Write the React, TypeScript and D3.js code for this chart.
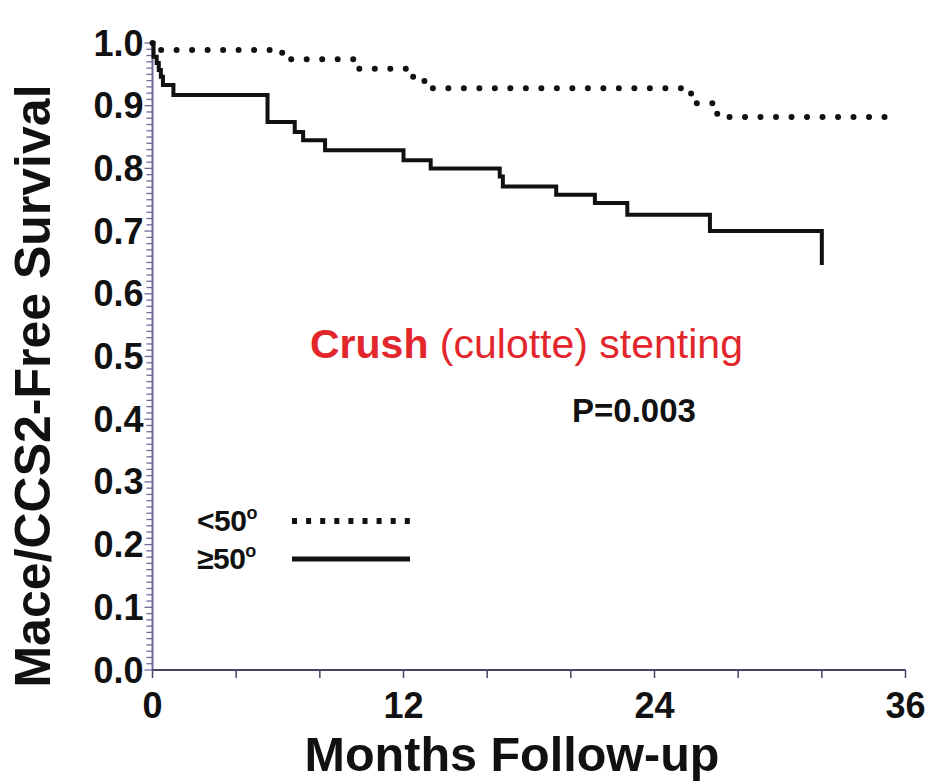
import React from "react";
import * as d3 from "d3";

// Kaplan-Meier steps: [month, survival]
const ge50Months = [0, 0.05, 0.2, 0.3, 0.4, 0.5, 1.0, 5.5, 6.8, 7.2, 8.25, 12.0, 13.3, 16.6, 16.75, 19.3, 21.15, 22.7, 26.65, 32.0];
const ge50Surv = [1.0, 0.978, 0.968, 0.957, 0.946, 0.933, 0.917, 0.874, 0.858, 0.845, 0.829, 0.813, 0.8, 0.787, 0.771, 0.758, 0.745, 0.726, 0.7, 0.646];

const lt50Months = [0, 0.1, 6.2, 9.8, 12.45, 13.0, 25.75, 27.0, 35.3];
const lt50Surv = [1.0, 0.989, 0.974, 0.959, 0.946, 0.928, 0.904, 0.882, 0.882];

const xTickLabels = [0, 12, 24, 36];
const xMinorTicks = [0, 4, 8, 12, 16, 20, 24, 28, 32, 36];
const yTickLabels = [0, 0.1, 0.2, 0.3, 0.4, 0.5, 0.6, 0.7, 0.8, 0.9, 1.0];

const W = 935;
const H = 783;

export default function App() {
  const x = d3.scaleLinear().domain([0, 36]).range([152.5, 905.5]);
  const y = d3.scaleLinear().domain([0, 1]).range([670, 43]);

  const line = d3
    .line<[number, number]>()
    .x((d) => x(d[0]))
    .y((d) => y(d[1]))
    .curve(d3.curveStepAfter);

  const solid = ge50Months.map((m, i) => [m, ge50Surv[i]] as [number, number]);
  const dotted = lt50Months.map((m, i) => [m, lt50Surv[i]] as [number, number]);

  const minorY = d3.range(0, 101).map((i) => i / 100);
  const axisCol = "#6b6b9c";
  const font = "Liberation Sans, Arial, Helvetica, sans-serif";

  return (
    <svg
      width={W}
      height={H}
      viewBox={`0 0 ${W} ${H}`}
      style={{ position: "absolute", left: 0, top: 0, background: "#fff" }}
      fontFamily={font}
    >
      {/* y axis */}
      <line x1={x(0)} x2={x(0)} y1={y(0)} y2={y(1)} stroke={axisCol} strokeWidth={2} />
      {minorY.map((v, i) => (
        <line
          key={"my" + i}
          x1={x(0) - (i % 10 === 0 ? 8 : 6)}
          x2={x(0)}
          y1={y(v)}
          y2={y(v)}
          stroke={axisCol}
          strokeWidth={1.3}
        />
      ))}
      {yTickLabels.map((v) => (
        <text
          key={"yl" + v}
          x={x(0) - 9}
          y={y(v)}
          textAnchor="end"
          dominantBaseline="central"
          fontSize={36}
          fontWeight="bold"
          fill="#111"
        >
          {v.toFixed(1)}
        </text>
      ))}
      {/* x axis */}
      <line x1={x(0)} x2={x(36)} y1={y(0)} y2={y(0)} stroke="#454565" strokeWidth={2} />
      {xMinorTicks.map((m) => (
        <line key={"xt" + m} x1={x(m)} x2={x(m)} y1={y(0)} y2={y(0) + 8} stroke="#454565" strokeWidth={1.5} />
      ))}
      {xTickLabels.map((m) => (
        <text
          key={"xl" + m}
          x={x(m)}
          y={718}
          textAnchor="middle"
          fontSize={36}
          fontWeight="bold"
          fill="#111"
        >
          {m}
        </text>
      ))}
      {/* axis titles */}
      <text
        transform={`translate(33,386) rotate(-90)`}
        textAnchor="middle"
        dominantBaseline="central"
        fontSize={50}
        fontWeight="bold"
        fill="#111"
      >
        Mace/CCS2-Free Survival
      </text>
      <text x={512} y={771} textAnchor="middle" fontSize={48.5} fontWeight="bold" fill="#111">
        Months Follow-up
      </text>

      {/* curves */}
      <path d={line(dotted) || ""} fill="none" stroke="#111" strokeWidth={6} strokeLinecap="round" strokeDasharray="0 15.5" />
      <path d={line(solid) || ""} fill="none" stroke="#111" strokeWidth={4} />

      {/* annotations */}
      <text x={310} y={358} fontSize={41} fill="#e3262b">
        <tspan fontWeight="bold">Crush</tspan>
        <tspan> (culotte) stenting</tspan>
      </text>
      <text x={572} y={422} fontSize={33} fontWeight="bold" fill="#111">
        P=0.003
      </text>

      {/* legend */}
      <text x={197} y={531} fontSize={30} fontWeight="bold" fill="#111" letterSpacing={-0.5}>
        {"<50"}
        <tspan fontSize={18} dy={-12}>o</tspan>
      </text>
      <line x1={292} x2={410} y1={521} y2={521} stroke="#111" strokeWidth={6} strokeDasharray="5 9.1" />
      <text x={197} y={569} fontSize={30} fontWeight="bold" fill="#111" letterSpacing={-0.5}>
        {"≥50"}
        <tspan fontSize={18} dy={-12}>o</tspan>
      </text>
      <line x1={292} x2={410} y1={559} y2={559} stroke="#111" strokeWidth={5} />
    </svg>
  );
}
